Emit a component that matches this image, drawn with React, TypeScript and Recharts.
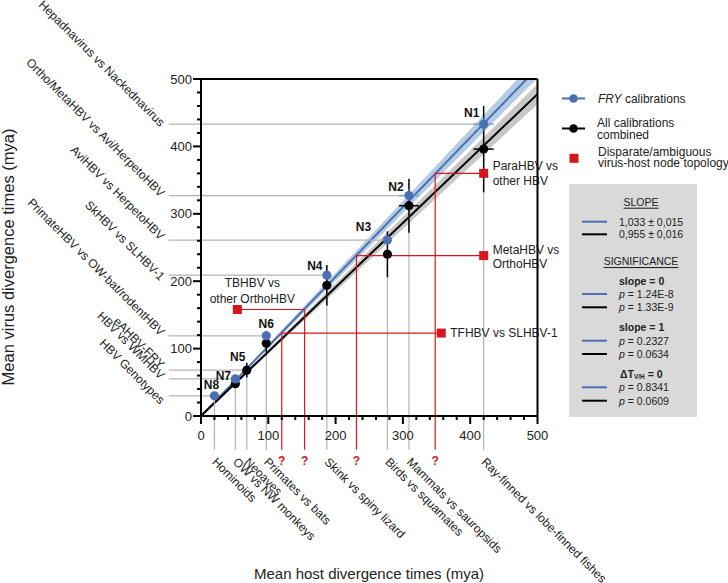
import React from 'react';
import { ComposedChart, XAxis, YAxis, Area, Line, Scatter, ErrorBar, ReferenceLine } from 'recharts';

// ---------- data ----------
const AXIS_TICKS = [0, 20, 40, 60, 80, 100, 120, 140, 160, 180, 200, 220, 240, 260, 280, 300, 320, 340, 360, 380, 400, 420, 440, 460, 480, 500];

const NODE_IDS = ['N1', 'N2', 'N3', 'N4', 'N5', 'N6', 'N7', 'N8'];
const HOST_TIMES = [420, 309, 277, 187, 68, 97, 51, 20];
const HOST_ERRORS = [15, 15, 0, 0, 0, 0, 0, 0];
const FRY_TIMES: (number | null)[] = [433, 327, 261, 209, null, 119, 55, 30];
const FRY_ERRORS = [10, 10, 0, 0, 0, 0, 0, 0];
const ALL_TIMES: (number | null)[] = [396, 312, 240, 194, 68, 108, 48, null];
const ALL_ERRORS = [64, 40, 34, 30, 11, 18, 6, 0];

const VIRUS_PAIRS = [
  'Hepadnavirus vs Nackednavirus',
  'Ortho/MetaHBV vs Avi/HerpetoHBV',
  'AviHBV vs HerpetoHBV',
  'SkHBV vs SLHBV-1',
  'eAHBV-FRY',
  'PrimateHBV vs OW-bat/rodentHBV',
  'HBV vs WMHBV',
  'HBV Genotypes',
];
const HOST_PAIRS = [
  'Ray-finned vs lobe-finned fishes',
  'Mammals vs sauropsids',
  'Birds vs squamates',
  'Skink vs spiny lizard',
  'Neoaves',
  'Primates vs bats',
  'OW vs NW monkeys',
  'Hominoids',
];

const DISPARATE_NAMES = [
  ['ParaHBV vs', 'other HBV'],
  ['MetaHBV vs', 'OrthoHBV'],
  ['TFHBV vs SLHBV-1'],
  ['TBHBV vs', 'other OrthoHBV'],
];
const DISPARATE_PLOT_X = [420, 420, 357, 54];
const DISPARATE_VIRUS = [360, 238, 123, 158];
const DISPARATE_HOST = [348, 231, 120, 154];

const FRY_SLOPE = 1.033;
const ALL_SLOPE = 0.955;
const CI_HALF = 0.03;
const FIT_X = [0, 500];

const SLOPE_TEXT = ['1,033 ± 0,015', '0,955 ± 0,016'];
const P_SLOPE0 = ['1.24E-8', '1.33E-9'];
const P_SLOPE1 = ['0.2327', '0.0634'];
const P_DELTA = ['0.8341', '0.0609'];

// ---------- styles ----------
const FONT = '"Liberation Sans", Arial, Helvetica, sans-serif';
const BLUE = '#4b6fb3';
const BLUE_BAND = '#b6cce3';
const GREY_BAND = '#c8c8c8';
const RED = '#d7161c';
const GUIDE = '#b3b3b3';
const GUIDE_LEFT = -48;
const GUIDE_BOTTOM = -50;

// per-label vertical nudge of the rotated virus labels (px)
const VIRUS_LABEL_NUDGE: Record<string, number> = {
  N1: 0, N2: -1, N3: -2.5, N4: 3, N5: -4, N6: -2.5, N7: -2, N8: 6,
};
const NODE_LABEL_OFFSET: Record<string, [number, number]> = {
  N1: [-12, -11], N2: [-13, -9], N3: [-24, -13], N4: [-12, -9],
  N5: [-9, -13], N6: [0, -12], N7: [-12, -3], N8: [-3, -11],
};
const NODE_LABEL_SERIES: Record<string, string> = {
  N1: 'fry', N2: 'fry', N3: 'fry', N4: 'fry', N5: 'all', N6: 'fry', N7: 'fry', N8: 'fry',
};
const DISPARATE_LABEL_STYLE = [
  { dx: 9, dy: -7, anchor: 'start', lh: 15 },
  { dx: 9, dy: -6, anchor: 'start', lh: 14 },
  { dx: 9, dy: 0, anchor: 'start', lh: 15 },
  { dx: 15, dy: -27, anchor: 'middle', lh: 16 },
];

// ---------- derived tables ----------
const fitData = FIT_X.map((x) => ({
  x,
  fryFit: FRY_SLOPE * x,
  allFit: ALL_SLOPE * x,
  fryBand: [(FRY_SLOPE - CI_HALF) * x, (FRY_SLOPE + CI_HALF) * x],
  allBand: [(ALL_SLOPE - CI_HALF) * x, (ALL_SLOPE + CI_HALF) * x],
}));

const fryData = NODE_IDS.map((node, i) => ({ node, x: HOST_TIMES[i], y: FRY_TIMES[i], ex: HOST_ERRORS[i], ey: FRY_ERRORS[i] })).filter((d) => d.y != null);
const allData = NODE_IDS.map((node, i) => ({ node, x: HOST_TIMES[i], y: ALL_TIMES[i], ex: HOST_ERRORS[i], ey: ALL_ERRORS[i] })).filter((d) => d.y != null);
const redData = DISPARATE_NAMES.map((lines, i) => ({ idx: i, lines, x: DISPARATE_PLOT_X[i], y: DISPARATE_VIRUS[i] }));

const nodeTop = (i: number) => (FRY_TIMES[i] != null ? (FRY_TIMES[i] as number) : (ALL_TIMES[i] as number));

// ---------- custom renderers ----------
const YTick = (props: any) => {
  const { x, y, payload } = props;
  const major = payload.value % 100 === 0;
  return (
    <g>
      <line x1={x - (major ? 8 : 4)} x2={x} y1={y} y2={y} stroke="#000" strokeWidth={2} />
      {major && (
        <text x={x - 9} y={y} textAnchor="end" dominantBaseline="central" fontSize={13} fontFamily={FONT} fill="#222">
          {payload.value}
        </text>
      )}
    </g>
  );
};

const XTick = (props: any) => {
  const { x, y, payload } = props;
  const major = payload.value % 100 === 0;
  return (
    <g>
      <line x1={x} x2={x} y1={y} y2={y + (major ? 8 : 4)} stroke="#000" strokeWidth={2} />
      {major && (
        <text x={x} y={y + 19} textAnchor="middle" dominantBaseline="central" fontSize={13} fontFamily={FONT} fill="#222">
          {payload.value}
        </text>
      )}
    </g>
  );
};

const virusGuide = (label: string, nudge: number) => (p: any) => {
  const tx = p.x1 - 9;
  const ty = p.y1 + 3 + nudge;
  return (
    <g>
      <line x1={p.x1} y1={p.y1} x2={p.x2} y2={p.y2} stroke={GUIDE} strokeWidth={1.2} />
      <text x={tx} y={ty} transform={`rotate(45 ${tx} ${ty})`} textAnchor="end" fontSize={12} fontFamily={FONT} fill="#222">
        {label}
      </text>
    </g>
  );
};

const hostGuide = (label: string) => (p: any) => {
  const tx = p.x1 - 3;
  const ty = p.y1 + 13;
  return (
    <g>
      <line x1={p.x1} y1={p.y1} x2={p.x2} y2={p.y2} stroke={GUIDE} strokeWidth={1.2} />
      <text x={tx} y={ty} transform={`rotate(45 ${tx} ${ty})`} textAnchor="start" fontSize={12} fontFamily={FONT} fill="#222">
        {label}
      </text>
    </g>
  );
};

const redLine = (i: number) => (p: any) => {
  const st = DISPARATE_LABEL_STYLE[i];
  return (
    <g>
      <line x1={p.x1} y1={p.y1} x2={p.x2} y2={p.y2} stroke={RED} strokeWidth={1.2} />
      {DISPARATE_NAMES[i].map((t, k) => (
        <text
          key={k}
          x={p.x2 + st.dx}
          y={p.y2 + st.dy + k * st.lh}
          textAnchor={st.anchor}
          dominantBaseline="central"
          fontSize={12}
          fontFamily={FONT}
          fill="#222"
        >
          {t}
        </text>
      ))}
    </g>
  );
};
const redDrop = (p: any) => (
  <g>
    <line x1={p.x1} y1={p.y1} x2={p.x2} y2={p.y2} stroke={RED} strokeWidth={1.2} />
    <text x={p.x1} y={p.y1 + 11} textAnchor="middle" dominantBaseline="central" fontSize={12} fontWeight="bold" fontFamily={FONT} fill={RED}>
      ?
    </text>
  </g>
);

const nodeShape = (series: string, color: string) => (p: any) => {
  const node = p.payload?.node;
  const off = NODE_LABEL_OFFSET[node];
  return (
    <g>
      <circle cx={p.cx} cy={p.cy} r={4.6} fill={color} />
      {NODE_LABEL_SERIES[node] === series && off && (
        <text x={p.cx + off[0]} y={p.cy + off[1]} textAnchor="middle" dominantBaseline="central" fontSize={12} fontWeight="bold" fontFamily={FONT} fill="#111">
          {node}
        </text>
      )}
    </g>
  );
};

const redShape = (p: any) => <rect x={p.cx - 4.5} y={p.cy - 4.5} width={9} height={9} fill={RED} />;

// ---------- overlay (legend / stats / titles) ----------
const Overlay = () => {
  const tx = 619;
  const row = (y: number, color: string, content: React.ReactNode, key: string) => (
    <g key={key}>
      <line x1={582} x2={607} y1={y} y2={y} stroke={color} strokeWidth={2} />
      <text x={tx} y={y} dominantBaseline="central" fontSize={10.5} fontFamily={FONT} fill="#222">
        {content}
      </text>
    </g>
  );
  const pText = (v: string) => (
    <>
      <tspan fontStyle="italic">p</tspan> = {v}
    </>
  );
  return (
    <svg width={728} height={583} style={{ position: 'absolute', left: 0, top: 0, pointerEvents: 'none' }}>
      {/* axis titles */}
      <text x={8} y={257} transform="rotate(-90 8 257)" textAnchor="middle" dominantBaseline="central" fontSize={16.5} fontFamily={FONT} fill="#222">
        Mean virus divergence times (mya)
      </text>
      <text x={369} y={573} textAnchor="middle" dominantBaseline="central" fontSize={15} fontFamily={FONT} fill="#222">
        Mean host divergence times (mya)
      </text>

      {/* legend */}
      <line x1={562} x2={585} y1={98.5} y2={98.5} stroke={BLUE} strokeWidth={2} />
      <circle cx={573.5} cy={98.5} r={4.3} fill={BLUE} />
      <text x={598} y={98.5} dominantBaseline="central" fontSize={12} fontFamily={FONT} fill="#222">
        <tspan fontStyle="italic">FRY</tspan> calibrations
      </text>
      <line x1={562} x2={585} y1={128.5} y2={128.5} stroke="#000" strokeWidth={2} />
      <circle cx={573.5} cy={128.5} r={4.3} fill="#000" />
      <text x={597} y={122.7} dominantBaseline="central" fontSize={12} fontFamily={FONT} fill="#222">All calibrations</text>
      <text x={597} y={134.5} dominantBaseline="central" fontSize={12} fontFamily={FONT} fill="#222">combined</text>
      <rect x={569.5} y={153.8} width={9} height={9} fill={RED} />
      <text x={598} y={151.5} dominantBaseline="central" fontSize={12} fontFamily={FONT} fill="#222">Disparate/ambiguous</text>
      <text x={598} y={163} dominantBaseline="central" fontSize={12} fontFamily={FONT} fill="#222">virus-host node topology</text>

      {/* stats box */}
      <rect x={569} y={184} width={128} height={233} fill="#d9d9d9" />
      <text x={641} y={201.7} textAnchor="middle" dominantBaseline="central" fontSize={10.5} fontFamily={FONT} fill="#222" textDecoration="underline">
        SLOPE
      </text>
      {row(221.7, BLUE, SLOPE_TEXT[0], 's1')}
      {row(234.3, '#000', SLOPE_TEXT[1], 's2')}
      <text x={641} y={261} textAnchor="middle" dominantBaseline="central" fontSize={10.5} fontFamily={FONT} fill="#222" textDecoration="underline">
        SIGNIFICANCE
      </text>
      <text x={tx} y={281} dominantBaseline="central" fontSize={10.5} fontWeight="bold" fontFamily={FONT} fill="#222">slope = 0</text>
      {row(294, BLUE, pText(P_SLOPE0[0]), 'a1')}
      {row(307.3, '#000', pText(P_SLOPE0[1]), 'a2')}
      <text x={tx} y={327.3} dominantBaseline="central" fontSize={10.5} fontWeight="bold" fontFamily={FONT} fill="#222">slope = 1</text>
      {row(340.7, BLUE, pText(P_SLOPE1[0]), 'b1')}
      {row(354, '#000', pText(P_SLOPE1[1]), 'b2')}
      <text x={tx + 1} y={374} dominantBaseline="central" fontSize={10.5} fontWeight="bold" fontFamily={FONT} fill="#222">
        ΔT<tspan fontSize={6.5} dy={2}>V/H</tspan>
        <tspan dy={-2}> = 0</tspan>
      </text>
      {row(387.3, BLUE, pText(P_DELTA[0]), 'c1')}
      {row(400.7, '#000', pText(P_DELTA[1]), 'c2')}
    </svg>
  );
};

export default function App() {
  return (
    <div style={{ position: 'absolute', left: 0, top: 0, width: 728, height: 583, background: '#fff', fontFamily: FONT }}>
      <ComposedChart width={728} height={583} data={fitData} margin={{ top: 79, right: 190.5, bottom: 137, left: 141 }}>
        <XAxis
          dataKey="x"
          type="number"
          domain={[0, 500]}
          ticks={AXIS_TICKS}
          interval={0}
          allowDataOverflow
          tickSize={0}
          tickMargin={0}
          tickLine={false}
          axisLine={{ stroke: '#000', strokeWidth: 2 }}
          tick={<XTick />}
          height={30}
        />
        <YAxis
          type="number"
          domain={[0, 500]}
          ticks={AXIS_TICKS}
          interval={0}
          allowDataOverflow
          tickSize={0}
          tickMargin={0}
          tickLine={false}
          axisLine={{ stroke: '#000', strokeWidth: 2 }}
          tick={<YTick />}
          width={60}
        />
        <Area dataKey="fryBand" stroke="none" fill={BLUE_BAND} fillOpacity={1} isAnimationActive={false} dot={false} activeDot={false} />
        <Area dataKey="allBand" stroke="none" fill={GREY_BAND} fillOpacity={1} isAnimationActive={false} dot={false} activeDot={false} />
        <Line dataKey="fryFit" stroke={BLUE} strokeWidth={2} dot={false} activeDot={false} isAnimationActive={false} />
        <Line dataKey="allFit" stroke="#000" strokeWidth={2} dot={false} activeDot={false} isAnimationActive={false} />

        {NODE_IDS.map((n, i) => (
          <ReferenceLine
            key={`v-${n}`}
            segment={[{ x: GUIDE_LEFT, y: nodeTop(i) }, { x: HOST_TIMES[i], y: nodeTop(i) }]}
            ifOverflow="visible"
            shape={virusGuide(VIRUS_PAIRS[i], VIRUS_LABEL_NUDGE[n])}
          />
        ))}
        {NODE_IDS.map((n, i) => (
          <ReferenceLine
            key={`h-${n}`}
            segment={[{ x: HOST_TIMES[i], y: GUIDE_BOTTOM }, { x: HOST_TIMES[i], y: nodeTop(i) }]}
            ifOverflow="visible"
            shape={hostGuide(HOST_PAIRS[i])}
          />
        ))}
        {DISPARATE_NAMES.map((_, i) => (
          <ReferenceLine
            key={`rh-${i}`}
            segment={[{ x: DISPARATE_HOST[i], y: DISPARATE_VIRUS[i] }, { x: DISPARATE_PLOT_X[i], y: DISPARATE_VIRUS[i] }]}
            ifOverflow="visible"
            shape={redLine(i)}
          />
        ))}
        {DISPARATE_NAMES.map((_, i) => (
          <ReferenceLine
            key={`rv-${i}`}
            segment={[{ x: DISPARATE_HOST[i], y: GUIDE_BOTTOM }, { x: DISPARATE_HOST[i], y: DISPARATE_VIRUS[i] }]}
            ifOverflow="visible"
            shape={redDrop}
          />
        ))}
        <ReferenceLine y={500} stroke="#000" strokeWidth={2} />
        <ReferenceLine x={500} stroke="#000" strokeWidth={2} />

        <Scatter data={allData} dataKey="y" isAnimationActive={false} shape={nodeShape('all', '#000')}>
          <ErrorBar dataKey="ey" direction="y" width={0} stroke="#000" strokeWidth={1.5} />
          <ErrorBar dataKey="ex" direction="x" width={0} stroke="#000" strokeWidth={1.5} />
        </Scatter>
        <Scatter data={fryData} dataKey="y" isAnimationActive={false} shape={nodeShape('fry', BLUE)}>
          <ErrorBar dataKey="ey" direction="y" width={0} stroke={BLUE} strokeWidth={1.5} />
          <ErrorBar dataKey="ex" direction="x" width={0} stroke="#7f9fd0" strokeWidth={1.5} />
        </Scatter>
        <Scatter data={redData} dataKey="y" isAnimationActive={false} shape={redShape} />
      </ComposedChart>
      <Overlay />
    </div>
  );
}
